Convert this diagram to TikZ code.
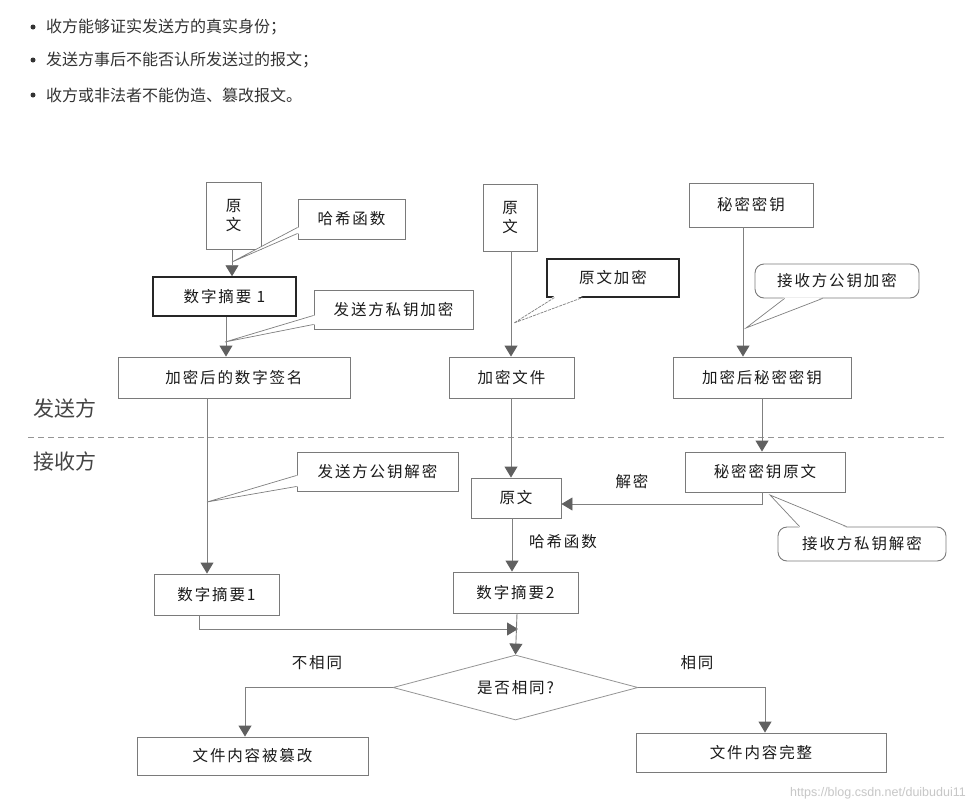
\documentclass[tikz,border=0pt]{standalone}
\usepackage{fontspec}
\setmainfont{Noto Sans CJK SC}
\newfontfamily\cjk[LetterSpace=12]{Noto Sans CJK SC}
\newfontfamily\wmfont{Liberation Sans}
\usetikzlibrary{arrows.meta,shapes.geometric,calc}
\definecolor{boxgray}{HTML}{7A7A7A}
\definecolor{linegray}{HTML}{808080}
\definecolor{arrowgray}{HTML}{606060}
\definecolor{txt}{HTML}{1A1A1A}
\definecolor{bullettxt}{HTML}{333333}
\definecolor{sidetxt}{HTML}{444444}
\begin{document}
\begin{tikzpicture}[x=1pt,y=-1pt,
  box/.style={draw=boxgray,line width=0.9pt,inner sep=0pt,font=\cjk\fontsize{15.5}{19}\selectfont,text=txt},
  callout/.style={box},
  rcallout/.style={box,rounded corners=9pt},
  arr/.style={draw=linegray,line width=0.9pt,-{Triangle[width=13pt,length=11pt,color=arrowgray]}},
  ptr/.style={draw=linegray,line width=0.7pt},
  lbl/.style={inner sep=0pt,font=\cjk\fontsize{15.5}{19}\selectfont,text=txt},
  side/.style={inner sep=0pt,font=\fontsize{21}{25}\selectfont,text=sidetxt},
  bul/.style={inner sep=0pt,anchor=west,font=\fontsize{16}{19}\selectfont,text=bullettxt},
  dot/.style={circle,fill=bullettxt,inner sep=0pt,minimum size=5pt}
]
\fill[white] (0,0) rectangle (974,811);
\useasboundingbox (0,0) rectangle (974,811);

% bullets
\node[dot] (d1) at (33,27) {};
\node[dot] (d2) at (33,60) {};
\node[dot] (d3) at (33,95) {};
\node[bul] (b1) at (46,27) {收方能够证实发送方的真实身份；};
\node[bul] (b2) at (46,60) {发送方事后不能否认所发送过的报文；};
\node[bul] (b3) at (46,95) {收方或非法者不能伪造、篡改报文。};

% boxes
\node[box,minimum width=55pt,minimum height=67pt,align=center] (yw1) at (233.5,215.5) {原\\文};
\node[box,line width=1.5pt,draw=black!85,minimum width=143pt,minimum height=39pt] (dz1) at (224.5,296.5) {数字摘要 1};
\node[box,minimum width=232pt,minimum height=41pt] (sig) at (234,377.5) {加密后的数字签名};
\node[box,minimum width=54pt,minimum height=67pt,align=center] (yw2) at (510,217.5) {原\\文};
\node[box,minimum width=125pt,minimum height=41pt] (encf) at (511.5,377.5) {加密文件};
\node[box,minimum width=124pt,minimum height=44pt] (key) at (751,205) {秘密密钥};
\node[box,minimum width=178pt,minimum height=41pt] (enckey) at (762,377.5) {加密后秘密密钥};
\node[box,minimum width=90pt,minimum height=40pt] (yw3) at (516,498) {原文};
\node[box,minimum width=160pt,minimum height=40pt] (keyorig) at (765,472) {秘密密钥原文};
\node[box,minimum width=125pt,minimum height=41pt] (dzr1) at (216.5,594.5) {数字摘要1};
\node[box,minimum width=125pt,minimum height=41pt] (dzr2) at (515.5,592.5) {数字摘要2};
\node[diamond,aspect=3.77,draw=boxgray!80,line width=0.8pt,inner sep=0pt,minimum width=245pt,minimum height=65pt,font=\cjk\fontsize{15.5}{19}\selectfont,text=txt] (cmp) at (515.5,687.5) {是否相同?};
\node[box,minimum width=231pt,minimum height=38pt] (bad) at (252.5,756) {文件内容被篡改};
\node[box,minimum width=250pt,minimum height=39pt] (ok) at (761,752.5) {文件内容完整};

% side labels and divider
\node[side] (snd) at (65,408) {发送方};
\node[side] (rcv) at (65,461) {接收方};
\coordinate (dl) at (28,437);
\coordinate (dr) at (946,437);
\draw[draw=boxgray!80,line width=0.8pt,dash pattern=on 6pt off 4pt] (dl) -- (dr);

% connectors
\draw[arr] (yw1.south -| 232,0) -- (dz1.north -| 232,0);
\draw[arr] (dz1.south -| 226,0) -- (sig.north -| 226,0);
\draw[arr] (yw2.south -| 511,0) -- (encf.north -| 511,0);
\draw[arr] (key.south -| 743,0) -- (enckey.north -| 743,0);
\draw[arr] (enckey.south -| 762,0) -- (keyorig.north -| 762,0);
\draw[arr] (sig.south -| 207,0) -- (dzr1.north -| 207,0);
\draw[arr] (encf.south -| 511,0) -- (yw3.north -| 511,0);
\draw[arr] (keyorig.south -| 762,0) -- (762,504) -- (yw3.east |- 0,504);
\draw[arr] (yw3.south -| 512,0) -- (dzr2.north -| 512,0);
\coordinate (m) at (518,629);
\draw[arr] (dzr1.south -| 199,0) |- (m);
\draw[arr] (dzr2.south -| 517,0) -- (cmp.north);
\draw[arr] (cmp.west) -| (bad.north -| 245,0);
\draw[arr] (cmp.east) -| (ok.north -| 765,0);

% edge labels
\node[lbl] (l1) at (317,663) {不相同};
\node[lbl] (l2) at (697,663) {相同};
\node[lbl] (l3) at (632,482) {解密};
\node[lbl] (l4) at (563,542) {哈希函数};

% callouts
\node[callout,minimum width=107pt,minimum height=40pt] (c1) at (351.5,219) {哈希函数};
\coordinate (t1) at (232,262);
\fill[white] ([xshift=1.2pt,yshift=12pt]c1.south west) -- (t1) -- ([xshift=1.2pt,yshift=6pt]c1.south west) -- cycle;
\draw[ptr] ([yshift=12pt]c1.south west) -- (t1) -- ([yshift=6pt]c1.south west);

\node[callout,minimum width=159pt,minimum height=39pt] (c2) at (393.5,309.5) {发送方私钥加密};
\coordinate (t2) at (225,342);
\fill[white] ([xshift=1.2pt,yshift=14pt]c2.south west) -- (t2) -- ([xshift=1.2pt,yshift=5pt]c2.south west) -- cycle;
\draw[ptr] ([yshift=14pt]c2.south west) -- (t2) -- ([yshift=5pt]c2.south west);

\node[callout,draw=black!85,line width=1.2pt,minimum width=132pt,minimum height=38pt] (c3) at (613,278) {原文加密};
\coordinate (t3) at (514,323);
\fill[white] ([xshift=8pt,yshift=1.5pt]c3.south west) -- (t3) -- ([xshift=36pt,yshift=1.5pt]c3.south west) -- cycle;
\draw[ptr,dash pattern=on 3pt off 1pt] ([xshift=8pt]c3.south west) -- (t3) -- ([xshift=36pt]c3.south west);

\node[rcallout,minimum width=164pt,minimum height=34pt] (c4) at (837,281) {接收方公钥加密};
\coordinate (t4) at (746,328);
\fill[white] ([xshift=30pt,yshift=1.2pt]c4.south west) -- (t4) -- ([xshift=68pt,yshift=1.2pt]c4.south west) -- cycle;
\draw[ptr] ([xshift=30pt]c4.south west) -- (t4) -- ([xshift=68pt]c4.south west);

\node[callout,minimum width=161pt,minimum height=39pt] (c5) at (377.5,471.5) {发送方公钥解密};
\coordinate (t5) at (207,502);
\fill[white] ([xshift=1.2pt,yshift=16pt]c5.south west) -- (t5) -- ([xshift=1.2pt,yshift=5pt]c5.south west) -- cycle;
\draw[ptr] ([yshift=16pt]c5.south west) -- (t5) -- ([yshift=5pt]c5.south west);

\node[rcallout,minimum width=168pt,minimum height=34pt] (c6) at (862,544) {接收方私钥解密};
\coordinate (t6) at (770,495);
\fill[white] ([xshift=22pt,yshift=-1.2pt]c6.north west) -- (t6) -- ([xshift=69pt,yshift=-1.2pt]c6.north west) -- cycle;
\draw[ptr] ([xshift=22pt]c6.north west) -- (t6) -- ([xshift=69pt]c6.north west);

% watermark
\node[anchor=east,inner sep=0pt,font=\wmfont\fontsize{12.5}{14}\selectfont,text=black!22] (wm) at (966,793) {https://blog.csdn.net/duibudui11};
\end{tikzpicture}
\end{document}
